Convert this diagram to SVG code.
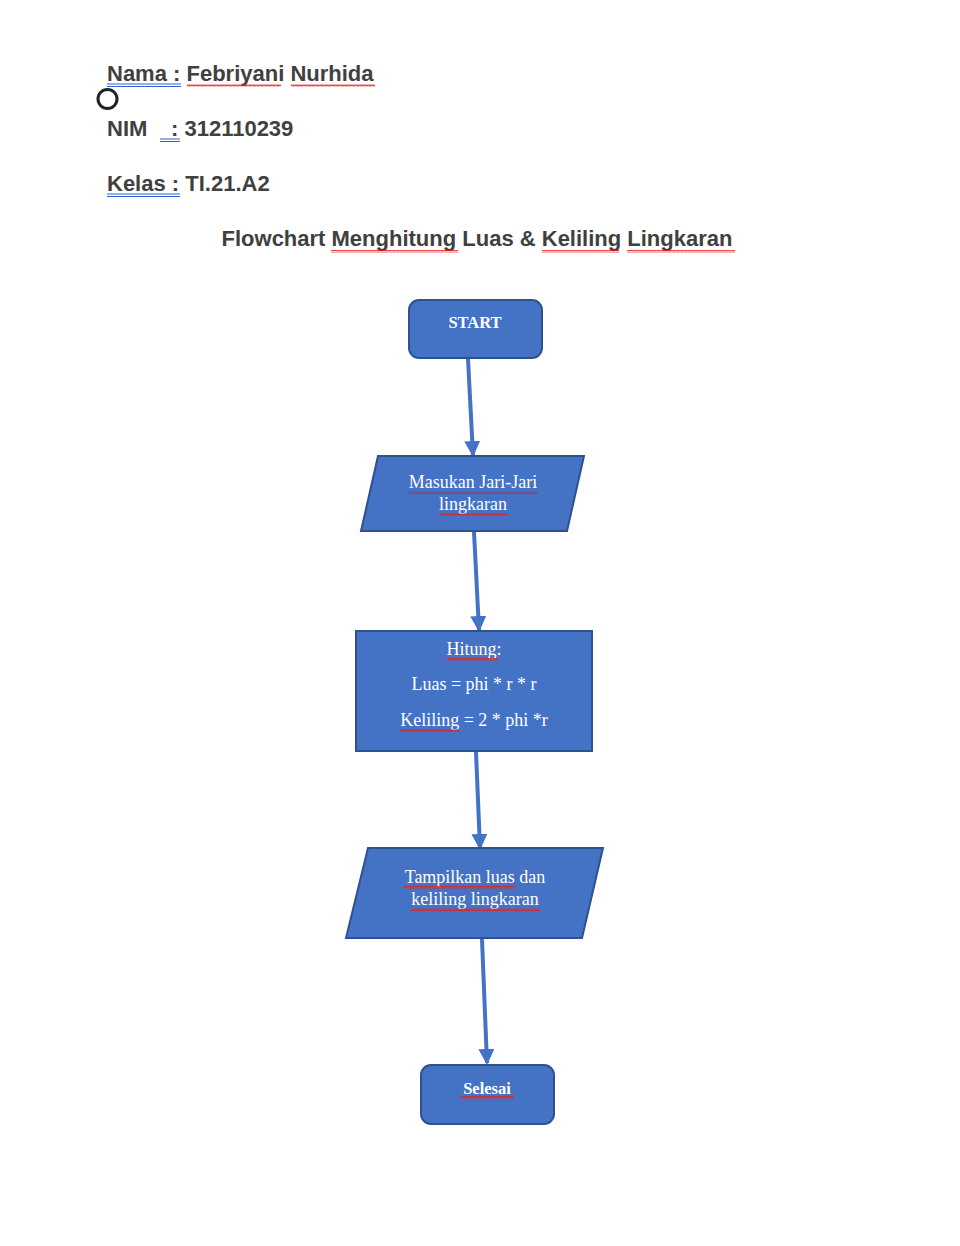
<svg xmlns="http://www.w3.org/2000/svg" width="960" height="1246" viewBox="0 0 960 1246">
<style>
.hd{font-family:"Liberation Sans",Arial,sans-serif;font-weight:bold;font-size:22px;fill:#404040}
.ul{stroke:#2F62D0;stroke-width:1}
.box{fill:#4472C4;stroke:#2F528F;stroke-width:2}
.t{font-family:"Liberation Serif","Times New Roman",serif;font-size:18px;fill:#fff;text-anchor:middle}
.tb{font-family:"Liberation Serif","Times New Roman",serif;font-size:16.5px;font-weight:bold;fill:#fff;text-anchor:middle}
.conn{stroke:#4472C4;stroke-width:4;fill:none}
</style>
<defs>
<marker id="ah" markerWidth="4" markerHeight="4" refX="3.5" refY="2" orient="auto" markerUnits="strokeWidth">
<path d="M0,0 L4,2 L0,4 z" fill="#4472C4"/>
</marker>
<pattern id="wave" width="4" height="3" patternUnits="userSpaceOnUse">
<path d="M0,2.5 L1,0.5 L2,2.5 L3,0.5 L4,2.5" fill="none" stroke="#E02020" stroke-width="0.8"/>
</pattern>
</defs>
<g id="header">
<text class="hd" x="107" y="81">Nama : Febriyani Nurhida</text>
<line class="ul" x1="107" y1="84" x2="181" y2="84"/><line class="ul" x1="107" y1="86.5" x2="181" y2="86.5"/>
<rect x="187" y="84" width="94" height="3" fill="url(#wave)"/>
<rect x="291" y="84" width="84" height="3" fill="url(#wave)"/>
<circle cx="107.5" cy="99" r="9.5" fill="none" stroke="#222" stroke-width="3"/>
<text class="hd" x="107" y="136">NIM</text>
<text class="hd" x="171" y="136">: 312110239</text>
<line class="ul" x1="160" y1="139" x2="180" y2="139"/><line class="ul" x1="160" y1="141.5" x2="180" y2="141.5"/>
<text class="hd" x="107" y="191">Kelas : TI.21.A2</text>
<line class="ul" x1="107" y1="194" x2="180" y2="194"/><line class="ul" x1="107" y1="196.5" x2="180" y2="196.5"/>
<text class="hd" x="477" y="246" text-anchor="middle">Flowchart Menghitung Luas &amp; Keliling Lingkaran</text>
<rect x="331" y="250" width="127" height="3" fill="url(#wave)"/>
<rect x="542" y="250" width="77" height="3" fill="url(#wave)"/>
<rect x="627" y="250" width="108" height="3" fill="url(#wave)"/>
</g>
<g id="connectors">
<line class="conn" x1="468" y1="359" x2="473" y2="455" marker-end="url(#ah)"/>
<line class="conn" x1="474" y1="532" x2="479" y2="630" marker-end="url(#ah)"/>
<line class="conn" x1="476" y1="752" x2="480" y2="848" marker-end="url(#ah)"/>
<line class="conn" x1="482" y1="939" x2="487" y2="1063" marker-end="url(#ah)"/>
</g>
<g id="start">
<rect class="box" x="409" y="300" width="133" height="58" rx="10"/>
<text class="tb" x="475" y="328">START</text>
</g>
<g id="input">
<polygon class="box" points="378,456 584,456 567,531 361,531"/>
<text class="t" x="473" y="488">Masukan Jari-Jari</text>
<text class="t" x="473" y="510">lingkaran</text>
<rect x="409" y="491" width="129" height="3" fill="url(#wave)"/>
<rect x="440" y="513" width="68" height="3" fill="url(#wave)"/>
</g>
<g id="process">
<rect class="box" x="356" y="631" width="236" height="120"/>
<text class="t" x="474" y="655">Hitung:</text>
<text class="t" x="474" y="690">Luas = phi * r * r</text>
<text class="t" x="474" y="726">Keliling = 2 * phi *r</text>
<rect x="447" y="658" width="51" height="3" fill="url(#wave)"/>
<rect x="400" y="729" width="59" height="3" fill="url(#wave)"/>
</g>
<g id="output">
<polygon class="box" points="368,848 603,848 582,938 346,938"/>
<text class="t" x="475" y="883">Tampilkan luas dan</text>
<text class="t" x="475" y="905">keliling lingkaran</text>
<rect x="404" y="886" width="111" height="3" fill="url(#wave)"/>
<rect x="411" y="908" width="129" height="3" fill="url(#wave)"/>
</g>
<g id="end">
<rect class="box" x="421" y="1065" width="133" height="59" rx="10"/>
<text class="tb" x="487" y="1094">Selesai</text>
<rect x="461" y="1096" width="53" height="3" fill="url(#wave)"/>
</g>
</svg>
